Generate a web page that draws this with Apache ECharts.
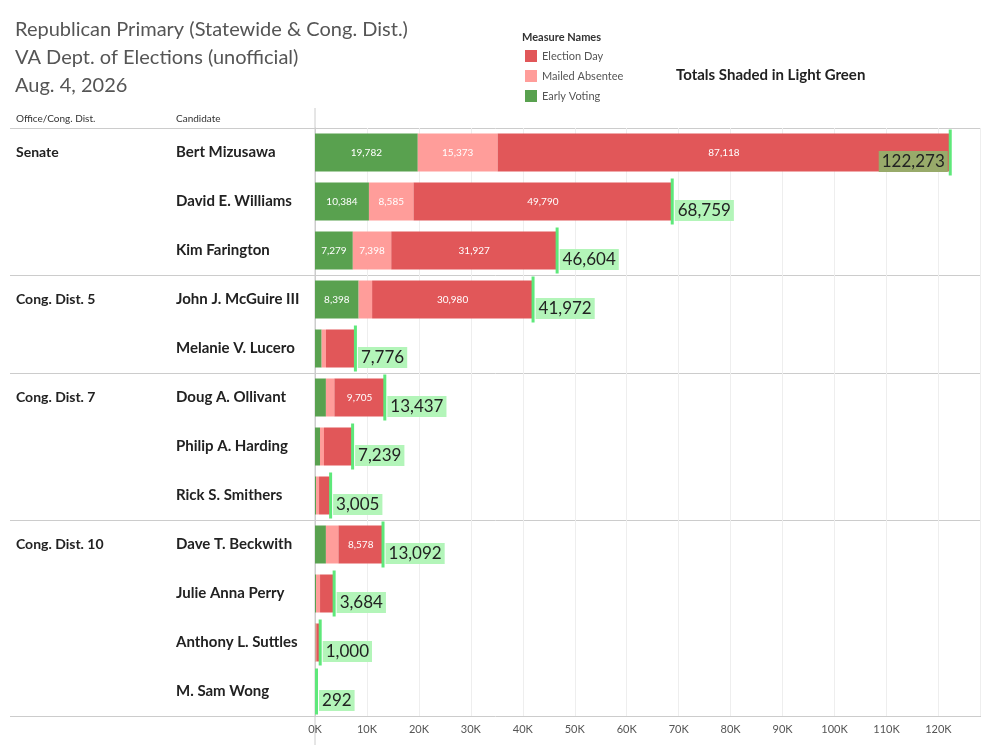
<!DOCTYPE html>
<html><head><meta charset="utf-8">
<script src="https://cdn.jsdelivr.net/npm/echarts@6/dist/echarts.min.js"></script>
<style>html,body{margin:0;padding:0;background:#fff}#c{width:981px;height:756px}</style>
</head><body><div id="c"></div>
<script>
const candidates = ['Bert Mizusawa','David E. Williams','Kim Farington','John J. McGuire III','Melanie V. Lucero','Doug A. Ollivant','Philip A. Harding','Rick S. Smithers','Dave T. Beckwith','Julie Anna Perry','Anthony L. Suttles','M. Sam Wong'];
const offices = ['Senate','','','Cong. Dist. 5','','Cong. Dist. 7','','','Cong. Dist. 10','','',''];
const groupStarts = [0,3,5,8];
const earlyVoting = [19782,10384,7279,8398,1280,2100,960,200,2100,200,100,50];
const mailedAbsentee = [15373,8585,7398,2594,830,1632,770,580,2414,770,150,42];
const electionDay = [87118,49790,31927,30980,5666,9705,5509,2225,8578,2714,750,200];
const totals = [122273,68759,46604,41972,7776,13437,7239,3005,13092,3684,1000,292];
const xTicks = [0,10000,20000,30000,40000,50000,60000,70000,80000,90000,100000,110000,120000];

const chart = echarts.init(document.getElementById('c'));
const FONT = 'Lato, "Open Sans", sans-serif';
const fmt = v => v.toLocaleString('en-US');
const segLabel = {show:true,position:'inside',color:'#fff',fontSize:10,fontFamily:FONT,
  formatter:p=>p.value>=7000?fmt(p.value):''};
const mkBar=(name,data,color)=>({name,type:'bar',stack:'t',data,barWidth:38,itemStyle:{color},label:segLabel,emphasis:{disabled:true}});
const totalData = totals.map((t,i)=>i===0?{value:[t,i],label:{position:'left',backgroundColor:'#98aa6a'}}:[t,i]);
chart.setOption({
  animation:false,
  textStyle:{fontFamily:FONT},
  grid:{left:315,right:1,top:128,bottom:40},
  legend:{orient:'vertical',left:520,top:45,itemWidth:12,itemHeight:12,itemGap:8,icon:'rect',
    textStyle:{fontSize:11,color:'#555'},data:['Election Day','Mailed Absentee','Early Voting'],selectedMode:false},
  xAxis:{type:'value',min:0,max:128000,interval:10000,
    axisLabel:{formatter:v=>xTicks.includes(v)?(v/1000)+'K':'',showMaxLabel:false,color:'#555',fontSize:11},
    splitLine:{lineStyle:{color:'#eee'}},axisLine:{show:false},axisTick:{show:false}},
  yAxis:[{type:'category',inverse:true,data:candidates,axisTick:{show:false},
    axisLine:{show:true,lineStyle:{color:'#ccc'}},
    axisLabel:{align:'left',margin:139,color:'#222',fontSize:15,fontWeight:'bold'}},
    {type:'category',inverse:true,data:offices,position:'left',offset:0,axisTick:{show:false},axisLine:{show:false},
    axisLabel:{align:'left',margin:299,color:'#222',fontSize:14,fontWeight:'bold'}}],
  series:[
    mkBar('Early Voting',earlyVoting,'#59a14f'),
    mkBar('Mailed Absentee',mailedAbsentee,'#ff9d9a'),
    mkBar('Election Day',electionDay,'#e15759'),
    {type:'scatter',data:totalData,symbol:'rect',symbolSize:[3,46],
     itemStyle:{color:'#5ee87a',opacity:1},z:5,
     label:{show:true,position:'right',distance:1,fontSize:17,color:'#222',
       backgroundColor:'#b3f5b9',padding:[3,3,1,3],formatter:p=>fmt(p.value[0])},
     labelLayout:{dy:9},
     emphasis:{disabled:true}}
  ],
  graphic:[
    {type:'text',left:15,top:16,style:{text:'Republican Primary (Statewide & Cong. Dist.)\nVA Dept. of Elections (unofficial)\nAug. 4, 2026',fontSize:20,lineHeight:28,fill:'#555',fontFamily:FONT}},
    {type:'text',left:522,top:32,style:{text:'Measure Names',fontSize:11,fill:'#333',fontWeight:'bold',fontFamily:FONT}},
    {type:'text',left:676,top:68,style:{text:'Totals Shaded in Light Green',fontSize:15,fill:'#222',fontWeight:'bold',fontFamily:FONT}},
    {type:'text',left:16,top:114,style:{text:'Office/Cong. Dist.',fontSize:10,fill:'#333',fontFamily:FONT}},
    {type:'text',left:176,top:114,style:{text:'Candidate',fontSize:10,fill:'#333',fontFamily:FONT}},
    {type:'line',shape:{x1:315,y1:108,x2:315,y2:745},style:{stroke:'#ccc'}}
  ]
});
const lines=[];
const y0=chart.convertToPixel({yAxisIndex:0},candidates[0]);
const y1=chart.convertToPixel({yAxisIndex:0},candidates[1]);
const h=y1-y0;
groupStarts.concat([candidates.length]).forEach(g=>{
  const y=Math.round(y0+(g-0.5)*h)+0.5;
  lines.push({type:'line',shape:{x1:10,y1:y,x2:981,y2:y},style:{stroke:'#ccc'}});
});
chart.setOption({graphic:lines.map((l,i)=>Object.assign({id:'sep'+i},l))});
</script></body></html>
